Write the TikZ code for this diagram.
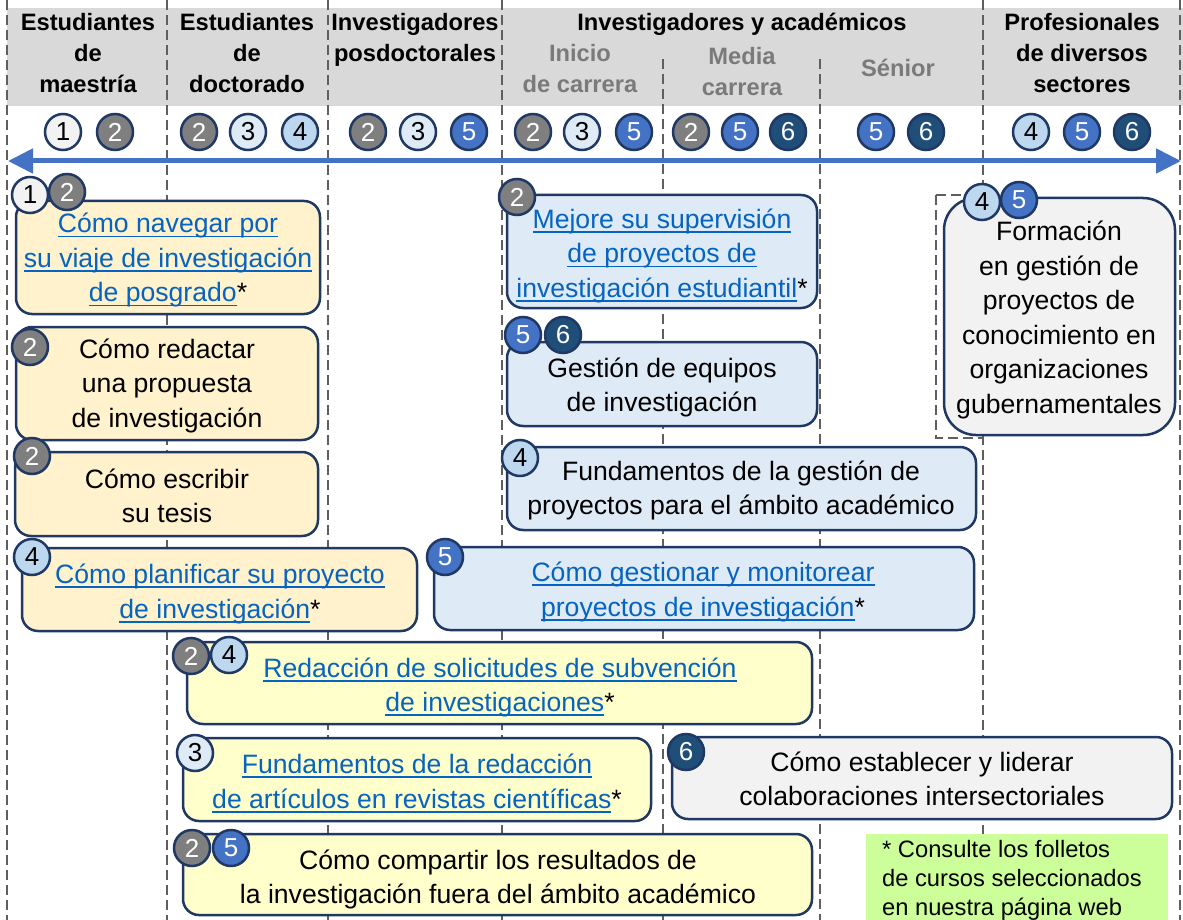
\documentclass[tikz,border=0pt]{standalone}
\usepackage{fontspec}
\setmainfont{Liberation Sans}
\usetikzlibrary{arrows.meta}
\definecolor{navy}{HTML}{1F3864}
\definecolor{bandgray}{HTML}{D9D9D9}
\definecolor{subgray}{HTML}{7A7A7A}
\definecolor{dashgray}{HTML}{5F5F5F}
\definecolor{linkblue}{HTML}{0563C1}
\definecolor{arrowblue}{HTML}{4472C4}
\definecolor{orangefill}{HTML}{FFF2CC}
\definecolor{bluefill}{HTML}{DEEBF7}
\definecolor{yellowfill}{HTML}{FFFFCC}
\definecolor{grayfill}{HTML}{F2F2F2}
\definecolor{notegreen}{HTML}{CCFF99}
\definecolor{cfa}{HTML}{F2F2F2}
\definecolor{cfb}{HTML}{7F7F7F}
\definecolor{cfc}{HTML}{DEEBF7}
\definecolor{cfd}{HTML}{BDD7EE}
\definecolor{cfe}{HTML}{4472C4}
\definecolor{cff}{HTML}{1F4E79}
\newcommand{\lk}[1]{{\color{linkblue}\setbox0=\hbox{#1}\rlap{\rule[-4.4pt]{\wd0}{1.6pt}}\box0}}
\newcommand{\topst}{\rule{0pt}{21.5pt}}
\newcommand{\botst}{\rule[-7pt]{0pt}{7pt}}
\newcommand{\htop}{\rule{0pt}{19pt}}
\newcommand{\hbot}{\rule[-6pt]{0pt}{6pt}}
\begin{document}
\begin{tikzpicture}[x=1pt,y=-1pt,
  hdr/.style={font=\bfseries\fontsize{23.7}{31}\selectfont, align=center, inner sep=0pt},
  sub/.style={hdr, text=subgray},
  gridline/.style={draw=dashgray, line width=1.6pt, dash pattern=on 10pt off 5pt},
  bx/.style={draw=navy, line width=2.5pt, rounded corners=16pt, inner sep=0pt},
  obox/.style={bx, fill=orangefill},
  bbox/.style={bx, fill=bluefill},
  ybox/.style={bx, fill=yellowfill},
  gbox/.style={bx, fill=grayfill},
  txt/.style={align=center, inner sep=0pt, font=\fontsize{26.6}{34.5}\selectfont},
  bd/.style={circle, draw=navy, line width=2.5pt, minimum size=36pt, inner sep=0pt, font=\fontsize{26}{30}\selectfont},
  ca/.style={bd, fill=cfa, text=black},
  cb/.style={bd, fill=cfb, text=white},
  cc/.style={bd, fill=cfc, text=black},
  cd/.style={bd, fill=cfd, text=black},
  ce/.style={bd, fill=cfe, text=white},
  cf/.style={bd, fill=cff, text=white},
  arrowline/.style={draw=arrowblue, line width=5pt, {Triangle[length=25pt,width=24pt]}-{Triangle[length=25pt,width=24pt]}}
]
\useasboundingbox (0,0) rectangle (1183,920);
% header band
\fill[bandgray] (7,8) rectangle (1183,106);
% column grid
\foreach \gx in {7,167,328,502,983,1180}{\draw[gridline] (\gx,0) -- (\gx,920);}
\foreach \gx in {663,820}{\draw[gridline] (\gx,59) -- (\gx,920);}
% header texts
\node[hdr] (h1) at (88,54.8) {\htop Estudiantes\\de\\maestría\hbot};
\node[hdr] (h2) at (247,54.8) {\htop Estudiantes\\de\\doctorado\hbot};
\node[hdr] (h3) at (415,39.3) {\htop Investigadores\\posdoctorales\hbot};
\node[hdr] (h4) at (742,24.3) {\htop Investigadores y académicos\hbot};
\node[sub] (h5) at (580,70.3) {\htop Inicio\\de carrera\hbot};
\node[sub] (h6) at (742,73.3) {\htop Media\\carrera\hbot};
\node[sub] (h7) at (898,70.3) {\htop Sénior\hbot};
\node[hdr] (h8) at (1082,55.3) {\htop Profesionales\\de diversos\\sectores\hbot};
% row of badges
\node[ca] (r11) at (63,132) {1};
\node[cb] (r12) at (115,132) {2};
\node[cb] (r21) at (199,132) {2};
\node[cc] (r22) at (248,132) {3};
\node[cd] (r23) at (300,132) {4};
\node[cb] (r31) at (368,132) {2};
\node[cc] (r32) at (418,132) {3};
\node[ce] (r33) at (469,132) {5};
\node[cb] (r41) at (533,132) {2};
\node[cc] (r42) at (582,132) {3};
\node[ce] (r43) at (634,132) {5};
\node[cb] (r51) at (691,132) {2};
\node[ce] (r52) at (740,132) {5};
\node[cf] (r53) at (788,132) {6};
\node[ce] (r61) at (876,132) {5};
\node[cf] (r62) at (926,132) {6};
\node[cd] (r71) at (1031,132) {4};
\node[ce] (r72) at (1082,132) {5};
\node[cf] (r73) at (1132,132) {6};
% timeline arrow
\coordinate (aL) at (8,161);
\coordinate (aR) at (1181,161);
\draw[arrowline] (aL) -- (aR);
% dashed frame behind box I
\draw[gridline] (936,195) rectangle (983,438);
% boxes
\node[obox, minimum width=304pt, minimum height=113pt] (A) at (168,257.5) {};
\node[obox, minimum width=302pt, minimum height=113pt] (B) at (167,383.5) {};
\node[obox, minimum width=303pt, minimum height=84pt] (C) at (166.5,494) {};
\node[obox, minimum width=395pt, minimum height=83pt] (D) at (219.5,589.5) {};
\node[bbox, minimum width=310pt, minimum height=113pt] (E) at (662,251.5) {};
\node[bbox, minimum width=310pt, minimum height=84pt] (F) at (662,384) {};
\node[bbox, minimum width=469pt, minimum height=83pt] (G) at (741.5,488.5) {};
\node[bbox, minimum width=540pt, minimum height=83pt] (H) at (704,588.5) {};
\node[gbox, rounded corners=32pt, minimum width=231pt, minimum height=237pt] (I) at (1059.5,316.5) {};
\node[ybox, minimum width=625pt, minimum height=82pt] (J) at (499.5,683) {};
\node[ybox, minimum width=468pt, minimum height=83pt] (K) at (417,779.5) {};
\node[gbox, minimum width=500pt, minimum height=82pt] (L) at (922,778) {};
\node[ybox, minimum width=629pt, minimum height=81pt] (M) at (497.5,874.5) {};
% box texts
\node[txt] (At) at (168,260) {\topst\lk{Cómo navegar por}\\\lk{su viaje de investigación}\\\lk{de posgrado}*\botst};
\node[txt] (Bt) at (167,385.6) {\topst Cómo redactar\\una propuesta\\de investigación\botst};
\node[txt] (Ct) at (167,498) {\topst Cómo escribir\\su tesis\botst};
\node[txt] (Dt) at (220,593.6) {\topst\lk{Cómo planificar su proyecto}\\\lk{de investigación}*\botst};
\node[txt] (Et) at (662,255.6) {\topst\lk{Mejore su supervisión}\\\lk{de proyectos de}\\\lk{investigación estudiantil}*\botst};
\node[txt] (Ft) at (662,387.1) {\topst Gestión de equipos\\de investigación\botst};
\node[txt] (Gt) at (741,490.1) {\topst Fundamentos de la gestión de\\proyectos para el ámbito académico\botst};
\node[txt] (Ht) at (703,591.6) {\topst\lk{Cómo gestionar y monitorear}\\\lk{proyectos de investigación}*\botst};
\node[txt] (It) at (1059,319.6) {\topst Formación\\en gestión de\\proyectos de\\conocimiento en\\organizaciones\\gubernamentales\botst};
\node[txt] (Jt) at (500,687.1) {\topst\lk{Redacción de solicitudes de subvención}\\\lk{de investigaciones}*\botst};
\node[txt] (Kt) at (417,783.6) {\topst\lk{Fundamentos de la redacción}\\\lk{de artículos en revistas científicas}*\botst};
\node[txt] (Lt) at (922,781.1) {\topst Cómo establecer y liderar\\colaboraciones intersectoriales\botst};
\node[txt] (Mt) at (498,879.1) {\topst Cómo compartir los resultados de\\la investigación fuera del ámbito académico\botst};
% box badges
\node[ca] (A1) at (30,195) {1};
\node[cb] (A2) at (67,192) {2};
\node[cb] (B1) at (30,347) {2};
\node[cb] (C1) at (32,456) {2};
\node[cd] (D1) at (32,557) {4};
\node[cb] (E1) at (517,197) {2};
\node[ce] (F1) at (523,335) {5};
\node[cf] (F2) at (563,335) {6};
\node[cd] (G1) at (520,458) {4};
\node[ce] (H1) at (445,557) {5};
\node[cd] (I1) at (982,202) {4};
\node[ce] (I2) at (1019,200) {5};
\node[cb] (J1) at (191,656) {2};
\node[cd] (J2) at (229,655) {4};
\node[cc] (K1) at (195,753) {3};
\node[cf] (L1) at (686,752) {6};
\node[cb] (M1) at (192,848) {2};
\node[ce] (M2) at (231,848) {5};
% note
\fill[notegreen] (866,834) rectangle (1168,925);
\node[anchor=north west, align=left, inner sep=0pt, font=\fontsize{23.7}{29}\selectfont] (note) at (882,838.5) {\htop * Consulte los folletos\\de cursos seleccionados\\en nuestra página web};
\end{tikzpicture}
\end{document}
